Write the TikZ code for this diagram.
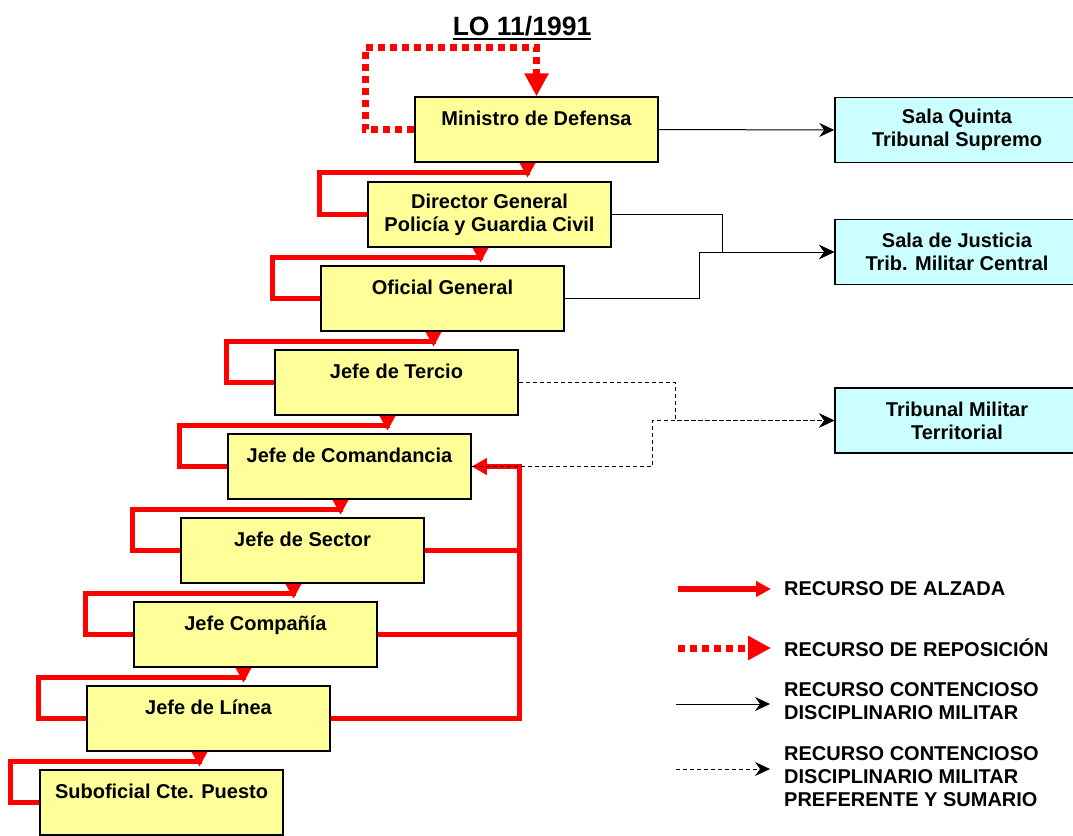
\documentclass[tikz,border=0pt]{standalone}
\usepackage{fontspec}
\setmainfont{Liberation Sans}
\usetikzlibrary{arrows.meta}
\usetikzlibrary{calc}
\definecolor{yellowbox}{HTML}{FFFF99}
\definecolor{cyanbox}{HTML}{CCFFFF}
\tikzset{
    bigfont/.style = {font=\bfseries\fontsize{20}{23}\selectfont},
    box/.style = {bigfont, rectangle, draw=black, line width=1.5pt, align=center, inner sep=0pt, minimum width=243pt, minimum height=65pt},
    ybox/.style = {box, fill=yellowbox},
    cbox/.style = {box, fill=cyanbox, minimum width=244pt},
    legtext/.style = {bigfont, anchor=west, align=left, inner sep=0pt},
    alzline/.style = {draw=red, line width=5pt},
    alz/.style = {alzline, -{Triangle[length=15pt,width=15pt]}},
    repo/.style = {draw=red, line width=7pt, dash pattern=on 7pt off 5pt, -{Triangle[length=23pt,width=23pt]}},
    cdm/.style = {draw=black, line width=1pt, -{Stealth[length=15pt,width=14pt,inset=5pt]}},
    cdmp/.style = {cdm, dash pattern=on 4pt off 3pt}
}
\begin{document}
\begin{tikzpicture}[x=1pt,y=-1pt]
\useasboundingbox (0,0) rectangle (1073,835);

% title
\node[anchor=base, inner sep=0pt, font=\bfseries\fontsize{26.5}{30}\selectfont] (lo) at (522,35) {LO 11/1991};
\draw[line width=2pt] ([yshift=-4pt]lo.base west) -- ([yshift=-4pt]lo.base east);

% chain of command
\node[ybox] (min) at (536.5,129.5) {Ministro de Defensa\\~};
\node[ybox] (dir) at (489.5,214.5) {Director General\\Policía y Guardia Civil};
\node[ybox] (ofi) at (442.5,298.5) {Oficial General\\~};
\node[ybox] (ter) at (396.5,382.5) {Jefe de Tercio\\~};
\node[ybox] (com) at (349.5,466.5) {Jefe de Comandancia\\~};
\node[ybox] (sec) at (302.5,550.5) {Jefe de Sector\\~};
\node[ybox] (cia) at (255.5,634.5) {Jefe Compañía\\~};
\node[ybox] (lin) at (208.5,718.5) {Jefe de Línea\\~};
\node[ybox] (sub) at (161.5,802.5) {Suboficial Cte. Puesto\\~};

% courts
\node[cbox] (sq) at (957,130) {Sala Quinta\\Tribunal Supremo};
\node[cbox] (sj) at (957,252) {Sala de Justicia\\Trib. Militar Central};
\node[cbox] (tmt) at (957,420.5) {Tribunal Militar\\Territorial};

% recurso de reposicion
\draw[repo] (min.west) -- ++(-49,0) |- ($(min.north)+(0,-49)$) -- (min.north);

% recursos de alzada
\draw[alz] (dir.west) -- ++(-48,0) |- ($(min.south)+(-9,10)$) -- ++(0,5);
\draw[alz] (ofi.west) -- ++(-48,0) |- ($(dir.south)+(-9,10)$) -- ++(0,5);
\draw[alz] (ter.west) -- ++(-48,0) |- ($(ofi.south)+(-9,10)$) -- ++(0,5);
\draw[alz] (com.west) -- ++(-48,0) |- ($(ter.south)+(-9,10)$) -- ++(0,5);
\draw[alz] (sec.west) -- ++(-48,0) |- ($(com.south)+(-9,10)$) -- ++(0,5);
\draw[alz] (cia.west) -- ++(-48,0) |- ($(sec.south)+(-9,10)$) -- ++(0,5);
\draw[alz] (lin.west) -- ++(-48,0) |- ($(cia.south)+(-12,10)$) -- ++(0,5);
\draw[alz] (sub.west) -- ++(-29,0) |- ($(lin.south)+(-9,10)$) -- ++(0,5);

\coordinate (bus) at ($(com.east)+(48,0)$);
\draw[alzline] (sec.east) -- (sec.east -| bus);
\draw[alzline] (cia.east) -- (cia.east -| bus);
\draw[alz, -{Triangle[length=15pt,width=16pt]}] (lin.east) -| (bus) -- (com.east);

% contencioso disciplinario militar
\draw[cdm] (min.east) -- (sq.west);
\draw[cdm] (dir.east) -| ($(sj.west)+(-112,0)$) -- (sj.west);
\draw[cdm] (ofi.east) -| ($(sj.west)+(-135,0)$) -- (sj.west);
\draw[cdmp] (ter.east) -| ($(tmt.west)+(-159,0)$) -- (tmt.west);
\draw[cdmp] (com.east) -| ($(tmt.west)+(-182,0)$) -- (tmt.west);

% legend
\node[legtext] (lalz) at (784,589) {RECURSO DE ALZADA};
\node[legtext] (lrep) at (784,648) {RECURSO DE REPOSICIÓN};
\node[legtext] (lcdm) at (784,701.5) {RECURSO CONTENCIOSO\\DISCIPLINARIO MILITAR};
\node[legtext] (lcdmp) at (784,777) {RECURSO CONTENCIOSO\\DISCIPLINARIO MILITAR\\PREFERENTE Y SUMARIO};
\draw[alz, line width=6pt] ([xshift=-106pt]lalz.west) -- ([xshift=-13pt]lalz.west);
\draw[repo] ([xshift=-106pt]lrep.west) -- ([xshift=-13pt]lrep.west);
\draw[cdm] ([xshift=-108pt,yshift=-2.5pt]lcdm.west) -- ([xshift=-14pt,yshift=-2.5pt]lcdm.west);
\draw[cdmp] ([xshift=-108pt,yshift=8pt]lcdmp.west) -- ([xshift=-14pt,yshift=8pt]lcdmp.west);
\end{tikzpicture}
\end{document}
